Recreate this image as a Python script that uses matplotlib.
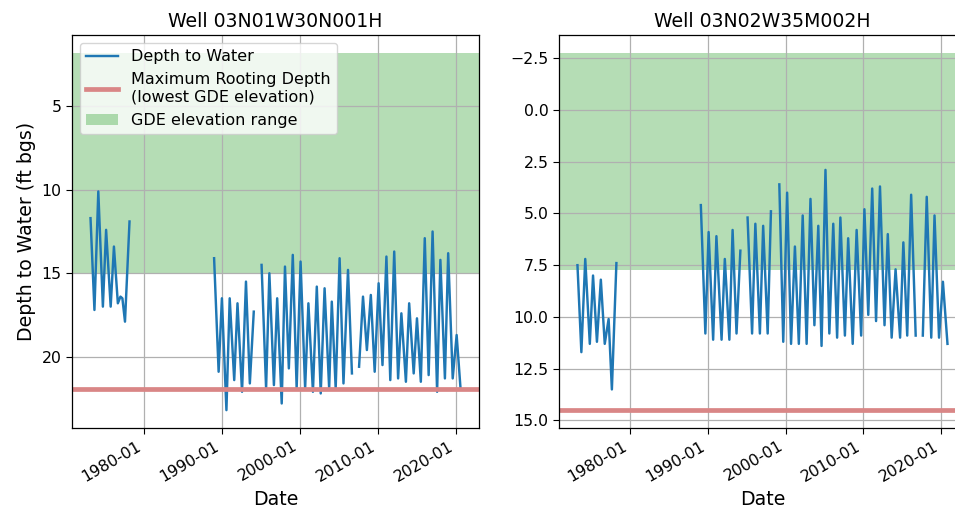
import numpy as np
import pandas as pd
import matplotlib
matplotlib.use("Agg")
import matplotlib.pyplot as plt
import matplotlib.dates as mdates
from matplotlib.lines import Line2D
from matplotlib.patches import Patch

nan = np.nan

# Well 03N01W30N001H - depth to water (ft bgs), nan marks a break in the record
well1_name = "03N01W30N001H"
well1_dates = [
    "1973-03", "1973-09", "1974-03", "1974-10", "1975-03", "1975-10", "1976-03", "1976-09",
    "1977-01", "1977-04", "1977-08", "1978-03", "1983-01",
    "1989-01", "1989-08", "1990-01", "1990-08", "1991-01", "1991-08", "1992-01", "1992-08",
    "1993-02", "1993-08", "1994-02", "1994-07",
    "1995-02", "1995-09", "1996-02", "1996-09", "1997-02", "1997-09", "1998-02", "1998-08",
    "1999-02", "1999-08", "2000-02", "2000-09", "2001-02", "2001-09", "2002-03", "2002-09",
    "2003-03", "2003-10", "2004-02", "2004-08", "2005-02", "2005-08", "2006-03", "2006-09",
    "2007-02",
    "2007-08", "2008-02", "2008-08", "2009-02", "2009-08", "2010-02", "2010-08", "2011-02",
    "2011-08", "2012-02", "2012-08", "2013-01", "2013-08", "2014-01", "2014-08", "2015-01",
    "2015-07", "2016-01", "2016-07", "2017-01", "2017-08", "2018-01", "2018-08", "2019-01",
    "2019-08", "2020-02", "2020-08",
]
well1_depth = [
    11.7, 17.2, 10.1, 17.0, 12.4, 17.0, 13.4, 16.8,
    16.4, 16.5, 17.9, 11.9, nan,
    14.1, 20.9, 16.5, 23.2, 16.5, 21.4, 16.8, 22.1,
    15.5, 21.6, 17.3, nan,
    14.5, 21.9, 15.0, 21.7, 16.5, 22.8, 14.6, 20.7,
    13.9, 21.9, 14.3, 21.9, 16.8, 22.1, 15.8, 22.2,
    15.9, 21.9, 16.7, 21.9, 14.1, 21.6, 14.8, 21.0,
    nan,
    20.6, 16.4, 19.6, 16.3, 20.9, 15.6, 20.5, 14.0,
    21.4, 13.7, 21.3, 17.4, 21.5, 16.8, 21.0, 17.7,
    21.5, 12.9, 21.1, 12.5, 22.1, 14.2, 21.3, 13.8,
    21.3, 18.7, 21.9,
]
well1_root_depth = 21.94
well1_gde_range = (1.8, 15.0)

# Well 03N02W35M002H
well2_name = "03N02W35M002H"
well2_dates = [
    "1973-04", "1973-10", "1974-04", "1974-11", "1975-04", "1975-10", "1976-04", "1976-10",
    "1977-04", "1977-09", "1978-04", "1983-01",
    "1989-02", "1989-09", "1990-02", "1990-09", "1991-02", "1991-10", "1992-03", "1992-10",
    "1993-03", "1993-09", "1994-03", "1994-08",
    "1995-02", "1995-09", "1996-02", "1996-09", "1997-02", "1997-09", "1998-02", "1998-08",
    "1999-03", "1999-09", "2000-03", "2000-09", "2001-03", "2001-09", "2002-03", "2002-09",
    "2003-03", "2003-09", "2004-03", "2004-08", "2005-02", "2005-08", "2006-02", "2006-08",
    "2007-01", "2007-08", "2008-01", "2008-08", "2009-02", "2009-09", "2010-02", "2010-08",
    "2011-02", "2011-08", "2012-02", "2012-09", "2013-02", "2013-08", "2014-02", "2014-09",
    "2015-02", "2015-08", "2016-02", "2016-09", "2017-02",
    "2017-08", "2018-02", "2018-09", "2019-02", "2019-09", "2020-03", "2020-10",
]
well2_depth = [
    7.5, 11.7, 7.2, 11.3, 8.0, 11.2, 8.2, 11.3,
    10.1, 13.5, 7.4, nan,
    4.6, 10.8, 5.9, 11.1, 6.1, 11.1, 7.2, 11.1,
    5.8, 10.8, 6.8, nan,
    5.2, 10.8, 5.5, 10.8, 5.6, 10.8, 4.9, nan,
    3.6, 11.2, 4.0, 11.3, 6.6, 11.3, 5.1, 11.3,
    4.3, 10.4, 5.6, 11.4, 2.9, 10.8, 5.5, 11.0,
    5.2, 10.9, 6.2, 11.3, 5.8, 10.9, 4.8, 9.9,
    3.8, 10.2, 3.7, 10.4, 6.0, 11.0, 7.7, 11.0,
    6.4, 10.9, 4.1, 10.9, nan,
    10.9, 4.2, 11.0, 5.1, 11.0, 8.3, 11.3,
]
well2_root_depth = 14.5
well2_gde_range = (-2.75, 7.75)

wells = [
    (well1_name, well1_dates, well1_depth, well1_root_depth, well1_gde_range),
    (well2_name, well2_dates, well2_depth, well2_root_depth, well2_gde_range),
]

root_color = "#d98686"

plt.rcParams["font.family"] = "DejaVu Sans"
plt.rcParams["xtick.labelsize"] = 11.3
plt.rcParams["ytick.labelsize"] = 11.3
plt.rcParams["xtick.major.size"] = 4
plt.rcParams["ytick.major.size"] = 4
plt.rcParams["axes.linewidth"] = 0.9

fig = plt.figure(figsize=(9.55, 5.14), dpi=100)
ax_left = fig.add_axes([0.0754, 0.1673, 0.4262, 0.7646])
ax_right = fig.add_axes([0.5853, 0.1673, 0.4262, 0.7646])

for ax, (name, dates, depth, root, gde) in zip([ax_left, ax_right], wells):
    t = pd.to_datetime(dates, format="%Y-%m") + pd.Timedelta(days=14)
    ax.axhspan(gde[0], gde[1], color="tab:green", alpha=0.35, lw=0)
    ax.plot(t, depth, color="tab:blue", lw=1.75)
    ax.axhline(root, color=root_color, lw=3.4)
    ax.invert_yaxis()
    ax.grid(True, lw=0.9, color="#b0b0b0")
    ax.xaxis.set_major_locator(mdates.YearLocator(10))
    ax.xaxis.set_major_formatter(mdates.DateFormatter("%Y-%m"))
    for lab in ax.get_xticklabels():
        lab.set_rotation(30)
        lab.set_ha("right")
    ax.set_title(f"Well {name}", fontsize=13.6)
    ax.set_xlabel("Date", fontsize=13.6)

ax_left.set_ylabel("Depth to Water (ft bgs)", fontsize=13.6)

# legend only on the first well
handles = [
    Line2D([], [], color="tab:blue", lw=1.75),
    Line2D([], [], color=root_color, lw=3.4),
    Patch(facecolor="tab:green", alpha=0.35),
]
labels = [
    "Depth to Water",
    "Maximum Rooting Depth\n(lowest GDE elevation)",
    "GDE elevation range",
]
ax_left.legend(handles, labels, loc="upper left", fontsize=11.5)

fig.savefig("out.png", dpi=100)
